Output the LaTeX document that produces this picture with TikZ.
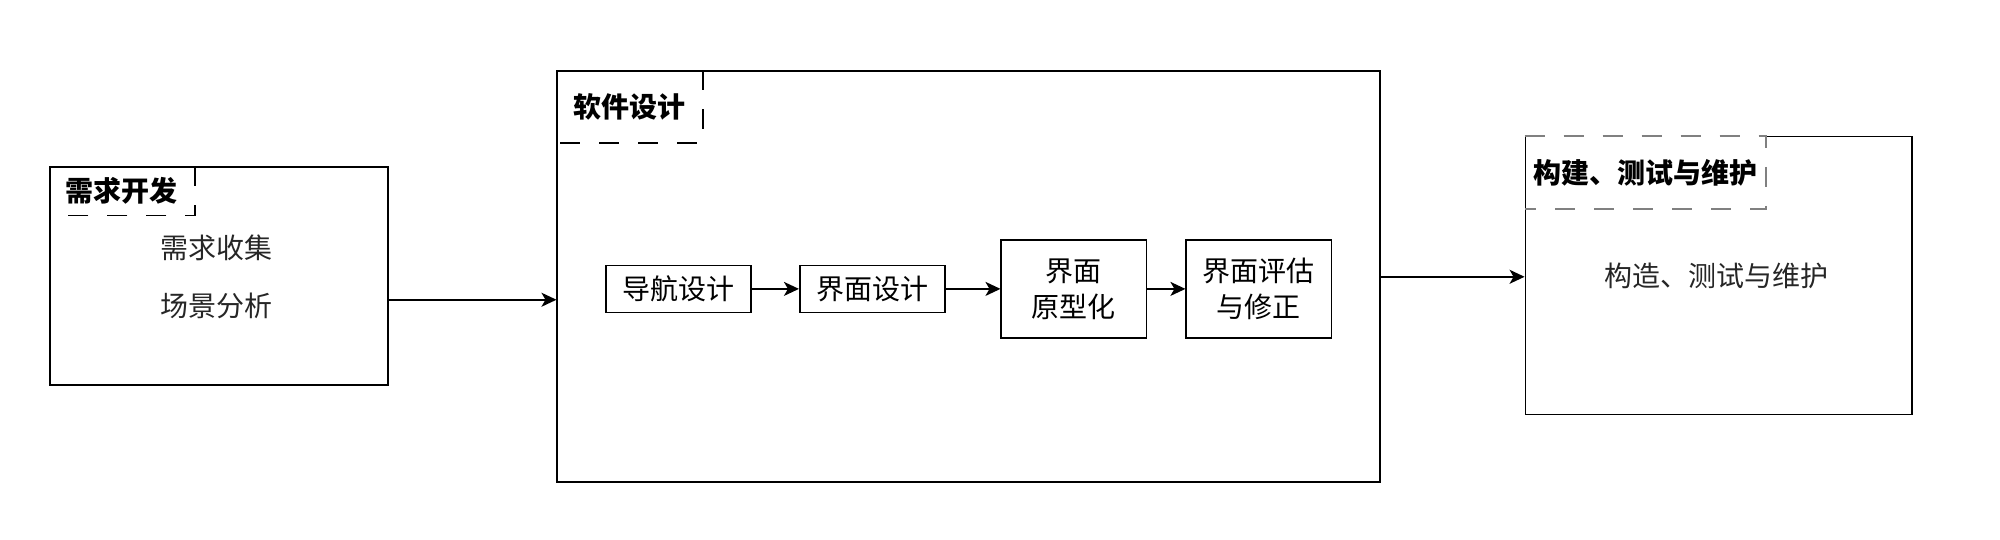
\documentclass[tikz,border=0pt]{standalone}
\usepackage{fontspec}
\setmainfont{Noto Sans CJK SC}
\usepackage{tikz}
\usetikzlibrary{
    arrows.meta,
    calc,
    positioning
}
\tikzset{stagebox/.style={draw=black, line width=0.9pt, inner sep=0pt},
         headbox/.style={inner sep=0pt, font=\fontsize{14}{17}\selectfont\bfseries},
         hdash/.style={line width=0.9pt, dash pattern=on 10pt off 9.5pt},
         stepbox/.style={draw=black, line width=0.8pt, minimum width=72.7pt, align=center,
                         font=\fontsize{14}{18}\selectfont},
         flow/.style={-{Stealth[length=7.5pt, width=7pt, inset=2pt]}, line width=0.9pt}}

\begin{document}
\begin{tikzpicture}[x=0.6378pt, y=-0.6378pt]
                        \useasboundingbox (0, 0) rectangle (1568, 423);
                        \node[stagebox, minimum width=169pt, minimum height=109pt] (req) at (171.5, 216.5) {};
                        \node[stagebox, minimum width=411.4pt, minimum height=205.4pt] (soft) at (759.5, 217) {};
                        \node[stagebox, minimum width=193.3pt, minimum height=139pt] (build) at (1347.5, 216) {};

                        \node[headbox, anchor=north west, minimum width=72.7pt, minimum height=24.2pt] (reqhead) at (req.north west) {需求开发};
                        \node[headbox, anchor=north west, minimum width=72.7pt, minimum height=35.7pt] (softhead) at (soft.north west) {软件设计};
                        \node[headbox, anchor=north west, minimum width=120.5pt, minimum height=36.4pt] (buildhead) at (build.north west) {构建、测试与维护};
                        \draw[hdash]
                        (reqhead.north east) -- (reqhead.south east) -- (reqhead.south west)
                        (softhead.north east) -- (softhead.south east) -- (softhead.south west);
                        % dashed top replaces the solid one
                        \draw[white, line width=1.2pt] ([xshift=0.5pt]buildhead.north west) -- (buildhead.north east);
                        \draw[hdash, gray]
                        (buildhead.north west) -- (buildhead.north east) -- (buildhead.south east) -- (buildhead.south west);

                        \node[font=\fontsize{14}{17}\selectfont, text=black!85] (collect) at (170, 194) {需求收集};
                        \node[font=\fontsize{14}{17}\selectfont, text=black!85] (scene) at (170, 240) {场景分析};
                        \node[font=\fontsize{14}{17}\selectfont, text=black!85] (maintain) at (1346, 216) {构造、测试与维护};

                        \node[stepbox, minimum height=23.6pt] (nav) at (532, 226.5) {导航设计};
                        \node[stepbox, minimum height=23.6pt] (ui) at (684, 226.5) {界面设计};
                        \node[stepbox, minimum height=49.1pt] (proto) at (842, 226.5) {界面\\原型化};
                        \node[stepbox, minimum height=49.1pt] (eval) at (987, 226.5) {界面评估\\与修正};

                        \draw[flow] ([yshift=-11.8pt]req.east) -- ([yshift=-11.8pt]req.east -| soft.west);
                        \draw[flow] (soft.east) -- (soft.east -| build.west);
                        \draw[flow] (nav) -- (ui);
                        \draw[flow] (ui) -- (proto);
                        \draw[flow] (proto) -- (eval);
                    \end{tikzpicture}
\end{document}
